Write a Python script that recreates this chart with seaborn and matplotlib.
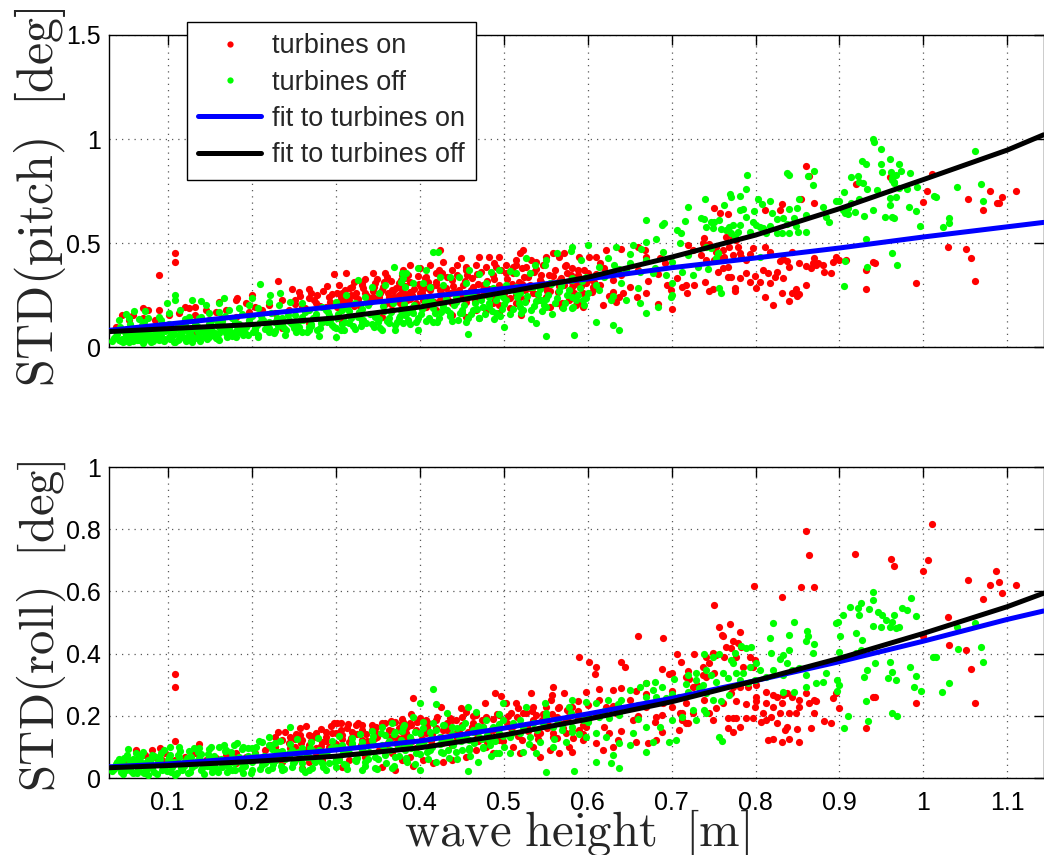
import numpy as np
import matplotlib
matplotlib.use("Agg")
import matplotlib.pyplot as plt
from matplotlib.lines import Line2D
from matplotlib.ticker import FuncFormatter
import seaborn as sns

# ---------------- data ----------------
pitch_on = [
(0.090,0.346),(0.109,0.450),(0.109,0.407),(0.231,0.319),(0.200,0.250),(0.248,0.277),(0.256,0.266),(0.268,0.277),
(0.278,0.250),(0.290,0.293),(0.298,0.349),(0.312,0.357),(0.304,0.298),(0.320,0.290),(0.331,0.306),(0.345,0.354),
(0.359,0.354),(0.375,0.306),(0.383,0.330),(0.308,0.258),(0.324,0.258),(0.335,0.258),(0.347,0.306),(0.355,0.274),
(0.367,0.274),(0.379,0.274),(0.292,0.242),(0.268,0.234),(0.252,0.226),(0.236,0.226),(0.220,0.202),(0.204,0.194),
(0.193,0.210),(0.181,0.226),(0.169,0.178),(0.157,0.170),(0.145,0.178),(0.133,0.194),(0.125,0.186),(0.113,0.162),
(0.101,0.154),(0.089,0.178),(0.077,0.178),(0.070,0.186),(0.058,0.154),(0.046,0.154),(0.038,0.098),(0.054,0.130),
(0.070,0.138),(0.085,0.130),(0.133,0.154),(0.149,0.130),(0.165,0.138),(0.181,0.146),(0.197,0.170),(0.212,0.178),
(0.228,0.162),(0.244,0.178),(0.260,0.194),(0.276,0.210),(0.288,0.194),(0.304,0.218),(0.316,0.226),(0.327,0.218),
(0.339,0.234),(0.351,0.242),(0.363,0.242),(0.375,0.250),(0.385,0.226),(0.161,0.218),(0.183,0.234),(0.121,0.191),
(0.236,0.090),(0.252,0.098),(0.268,0.114),(0.284,0.122),(0.308,0.122),(0.331,0.130),(0.355,0.146),(0.367,0.178),
(0.379,0.178),(0.133,0.066),
(0.523,0.466),(0.519,0.450),(0.515,0.418),(0.495,0.434),(0.483,0.434),(0.471,0.431),(0.449,0.426),(0.428,0.410),
(0.412,0.394),(0.400,0.378),(0.388,0.394),(0.380,0.370),(0.378,0.322),(0.388,0.314),(0.408,0.338),(0.420,0.354),
(0.439,0.370),(0.455,0.370),(0.467,0.394),(0.479,0.386),(0.491,0.386),(0.503,0.394),(0.515,0.394),(0.527,0.386),
(0.539,0.410),(0.551,0.434),(0.559,0.450),(0.566,0.434),(0.572,0.450),(0.574,0.394),(0.582,0.378),(0.590,0.434),
(0.602,0.434),(0.610,0.431),(0.622,0.466),(0.640,0.469),(0.660,0.479),(0.668,0.466),(0.670,0.434),(0.686,0.426),
(0.692,0.402),(0.725,0.466),(0.719,0.490),(0.727,0.298),(0.717,0.298),(0.713,0.290),(0.699,0.274),(0.701,0.183),
(0.684,0.207),(0.670,0.258),(0.659,0.242),(0.642,0.258),(0.638,0.242),(0.630,0.266),(0.634,0.218),(0.618,0.202),
(0.606,0.290),(0.598,0.306),(0.582,0.290),(0.594,0.194),(0.578,0.226),(0.570,0.194),(0.563,0.210),(0.551,0.242),
(0.555,0.194),(0.543,0.226),(0.535,0.258),(0.527,0.226),(0.519,0.242),(0.515,0.210),(0.507,0.234),(0.499,0.274),
(0.495,0.202),(0.487,0.210),(0.475,0.274),(0.463,0.290),(0.455,0.258),(0.447,0.274),(0.436,0.258),(0.424,0.274),
(0.412,0.274),(0.400,0.258),(0.388,0.242),(0.380,0.226),(0.378,0.178),(0.392,0.194),(0.408,0.194),(0.420,0.178),
(0.439,0.154),(0.455,0.146),(0.467,0.178),(0.479,0.178),(0.455,0.218),(0.439,0.210),(0.424,0.226),(0.404,0.226),
(0.521,0.154),(0.507,0.186),(0.495,0.162),(0.570,0.210),(0.586,0.202),(0.592,0.218),(0.424,0.466),
(0.860,0.870),(0.864,0.822),(0.870,0.691),(0.854,0.710),(0.831,0.688),(0.829,0.659),(0.811,0.659),(0.750,0.667),
(0.758,0.646),(0.767,0.639),(0.765,0.530),(0.773,0.522),(0.777,0.514),(0.779,0.482),(0.781,0.450),(0.769,0.482),
(0.761,0.466),(0.753,0.482),(0.745,0.495),(0.739,0.522),(0.737,0.498),(0.741,0.418),(0.751,0.418),(0.757,0.434),
(0.763,0.434),(0.773,0.442),(0.783,0.434),(0.793,0.447),(0.797,0.474),(0.811,0.482),(0.817,0.458),(0.829,0.415),
(0.833,0.421),(0.844,0.458),(0.852,0.402),(0.860,0.391),(0.868,0.405),(0.874,0.405),(0.870,0.426),(0.866,0.378),
(0.872,0.394),(0.880,0.394),(0.882,0.362),(0.890,0.357),(0.892,0.407),(0.896,0.434),(0.900,0.418),(0.908,0.418),
(0.940,0.410),(0.942,0.405),(0.931,0.370),(0.931,0.277),(0.991,0.309),(1.029,0.482),(1.051,0.471),(1.057,0.429),
(1.061,0.317),(1.053,0.712),(1.071,0.660),(1.079,0.750),(1.088,0.694),(1.090,0.694),(1.094,0.720),(1.110,0.750),
(1.004,0.750),(0.999,0.699),(1.010,0.832),(0.960,0.819),(0.920,0.784),(0.740,0.314),(0.745,0.271),(0.749,0.277),
(0.775,0.269),(0.776,0.282),(0.801,0.282),(0.811,0.242),(0.821,0.204),(0.831,0.261),(0.840,0.223),(0.844,0.261),
(0.850,0.245),(0.852,0.253),(0.848,0.277),(0.860,0.298),(0.833,0.330),(0.823,0.335),(0.825,0.362),(0.815,0.354),
(0.809,0.370),(0.799,0.343),(0.789,0.357),(0.781,0.333),(0.771,0.338),(0.767,0.338),(0.761,0.378),(0.755,0.362),
(0.793,0.314),(0.805,0.314),(0.817,0.309),(0.840,0.386),(0.837,0.415),(0.789,0.418),(0.767,0.386),(0.735,0.442),
(0.739,0.482),(0.753,0.458),
(0.252,0.205),(0.258,0.245),(0.263,0.188),(0.271,0.262),(0.274,0.226),(0.281,0.198),(0.285,0.270),(0.293,0.215),
(0.296,0.257),(0.301,0.190),(0.306,0.238),(0.311,0.275),(0.314,0.205),(0.318,0.250),(0.322,0.312),(0.326,0.231),
(0.329,0.196),(0.333,0.282),(0.337,0.247),(0.341,0.214),(0.344,0.268),(0.349,0.325),(0.352,0.228),(0.356,0.290),
(0.359,0.205),(0.362,0.262),(0.366,0.318),(0.369,0.240),(0.372,0.285),(0.376,0.212),(0.379,0.300),(0.382,0.255),
(0.386,0.345),(0.389,0.230),(0.393,0.278),(0.396,0.210),(0.399,0.305),(0.403,0.262),(0.406,0.330),(0.409,0.238),
(0.413,0.290),(0.417,0.215),(0.420,0.312),(0.424,0.250),(0.427,0.355),(0.431,0.282),(0.434,0.228),(0.438,0.320),
(0.441,0.268),(0.445,0.345),(0.448,0.245),(0.452,0.298),(0.455,0.385),(0.459,0.262),(0.462,0.330),(0.466,0.222),
(0.469,0.305),(0.473,0.360),(0.476,0.250),(0.480,0.318),(0.483,0.278),(0.487,0.345),(0.490,0.232),(0.494,0.300),
(0.497,0.372),(0.501,0.262),(0.504,0.328),(0.508,0.288),(0.511,0.355),(0.515,0.248),(0.518,0.312),(0.522,0.382),
(0.525,0.275),(0.529,0.338),(0.532,0.298),(0.536,0.362),(0.540,0.255),(0.543,0.322),(0.547,0.395),(0.550,0.285),
(0.554,0.345),(0.557,0.310),(0.561,0.372),(0.565,0.265),(0.568,0.332),(0.572,0.298),(0.576,0.355),(0.580,0.318),
(0.584,0.262),(0.588,0.345),(0.592,0.292),(0.596,0.372),(0.600,0.322),(0.605,0.265),(0.610,0.350),(0.615,0.300),
(0.620,0.380),(0.625,0.245),(0.630,0.320),(0.640,0.345),(0.650,0.290),(0.660,0.370),(0.672,0.318),(0.684,0.352),
(0.695,0.296),(0.706,0.330),(0.718,0.262),
(0.302,0.262),(0.309,0.220),(0.317,0.282),(0.323,0.245),(0.331,0.300),(0.338,0.225),(0.346,0.288),(0.353,0.258),
(0.361,0.335),(0.368,0.270),(0.375,0.228),(0.383,0.295),(0.391,0.248),(0.398,0.340),(0.405,0.282),(0.412,0.232),
(0.419,0.298),(0.426,0.262),(0.433,0.338),(0.440,0.292),(0.447,0.242),(0.454,0.318),(0.461,0.272),(0.468,0.352),
(0.475,0.298),(0.482,0.250),(0.489,0.325),(0.496,0.282),(0.503,0.358),(0.510,0.305),(0.517,0.262),(0.524,0.338),
(0.531,0.285),(0.538,0.375),(0.545,0.312),(0.552,0.268),(0.559,0.342),(0.566,0.295),(0.573,0.388),(0.580,0.345),
(0.587,0.305),(0.594,0.262),(0.601,0.358),(0.608,0.312),(0.615,0.405),(0.322,0.198),(0.344,0.242),(0.366,0.205),
(0.388,0.265),(0.410,0.312),(0.432,0.250),(0.456,0.345),(0.478,0.272),(0.500,0.242),(0.522,0.302),(0.544,0.345),
(0.566,0.318),(0.588,0.372),(0.610,0.285),(0.335,0.325),(0.357,0.312),(0.379,0.345),(0.401,0.288),(0.423,0.372),
(0.445,0.395),(0.467,0.262),(0.489,0.405),(0.511,0.385),(0.533,0.418),(0.555,0.270),
]

pitch_off = [
(0.109,0.250),(0.109,0.226),(0.099,0.210),(0.210,0.303),(0.234,0.258),(0.222,0.250),(0.200,0.234),(0.129,0.226),
(0.139,0.223),(0.161,0.213),(0.167,0.234),(0.145,0.202),(0.115,0.178),(0.073,0.173),(0.060,0.173),(0.050,0.159),
(0.042,0.130),(0.054,0.138),(0.066,0.133),(0.077,0.138),(0.089,0.146),(0.101,0.162),(0.125,0.146),(0.137,0.138),
(0.149,0.162),(0.161,0.170),(0.173,0.178),(0.185,0.186),(0.197,0.202),(0.208,0.186),(0.220,0.218),(0.232,0.202),
(0.246,0.218),(0.260,0.210),(0.268,0.178),(0.284,0.194),(0.300,0.218),(0.312,0.250),(0.327,0.322),(0.343,0.290),
(0.359,0.298),(0.370,0.383),(0.379,0.354),(0.383,0.290),(0.351,0.258),(0.335,0.242),(0.323,0.210),(0.308,0.178),
(0.292,0.154),(0.276,0.138),(0.260,0.146),(0.244,0.130),(0.228,0.122),(0.212,0.130),(0.197,0.114),(0.181,0.106),
(0.165,0.098),(0.149,0.090),(0.133,0.098),(0.117,0.090),(0.101,0.082),(0.085,0.082),(0.070,0.074),(0.058,0.066),
(0.050,0.050),(0.054,0.026),(0.066,0.034),(0.077,0.042),(0.089,0.034),(0.101,0.050),(0.113,0.058),(0.125,0.050),
(0.137,0.062),(0.149,0.050),(0.161,0.066),(0.173,0.074),(0.189,0.082),(0.204,0.082),(0.220,0.090),(0.236,0.106),
(0.252,0.114),(0.268,0.082),(0.280,0.053),(0.260,0.074),(0.300,0.090),(0.316,0.114),(0.331,0.122),(0.347,0.146),
(0.363,0.114),(0.375,0.138),(0.385,0.162),(0.355,0.082),(0.371,0.082),(0.300,0.050),(0.208,0.050),(0.129,0.026),
(0.070,0.018),(0.062,0.050),(0.085,0.050),(0.109,0.026),(0.048,0.034),(0.046,0.082),(0.042,0.034),(0.093,0.106),
(0.161,0.034),(0.181,0.050),
(0.045,0.040),(0.052,0.030),(0.058,0.045),(0.063,0.035),(0.068,0.055),(0.072,0.028),(0.078,0.060),(0.082,0.030),
(0.087,0.045),(0.092,0.055),(0.096,0.028),(0.103,0.040),(0.107,0.062),(0.112,0.035),(0.118,0.048),(0.122,0.030),
(0.128,0.060),(0.133,0.042),(0.138,0.030),(0.143,0.070),(0.147,0.040),(0.153,0.060),(0.158,0.045),(0.165,0.080),
(0.170,0.050),(0.176,0.065),(0.185,0.070),(0.195,0.060),(0.050,0.060),(0.060,0.080),(0.075,0.090),(0.090,0.070),
(0.115,0.080),(0.135,0.100),(0.160,0.120),(0.190,0.100),(0.210,0.120),(0.230,0.140),(0.250,0.090),(0.270,0.100),
(0.290,0.120),(0.310,0.080),(0.330,0.100),(0.350,0.120),(0.240,0.060),(0.220,0.070),
(0.036,0.045),(0.040,0.062),(0.044,0.028),(0.048,0.075),(0.053,0.048),(0.057,0.092),(0.061,0.038),(0.065,0.068),
(0.069,0.105),(0.073,0.052),(0.077,0.082),(0.081,0.040),(0.085,0.065),(0.089,0.098),(0.093,0.045),(0.097,0.075),
(0.101,0.112),(0.105,0.055),(0.109,0.088),(0.113,0.040),(0.117,0.070),(0.121,0.105),(0.125,0.058),(0.129,0.085),
(0.133,0.120),(0.137,0.050),(0.141,0.092),(0.145,0.068),(0.149,0.110),(0.153,0.078),(0.157,0.048),(0.161,0.098),
(0.165,0.125),(0.169,0.065),(0.173,0.092),(0.177,0.140),(0.181,0.075),(0.185,0.110),(0.189,0.058),(0.193,0.095),
(0.197,0.132),(0.201,0.070),(0.206,0.108),(0.211,0.150),(0.216,0.085),(0.221,0.118),(0.226,0.065),(0.231,0.100),
(0.236,0.140),(0.241,0.080),(0.246,0.120),(0.251,0.155),(0.256,0.098),(0.261,0.130),(0.266,0.072),(0.271,0.112),
(0.276,0.158),(0.281,0.090),(0.286,0.128),(0.291,0.168),(0.296,0.105),(0.301,0.140),(0.306,0.080),(0.311,0.122),
(0.316,0.175),(0.321,0.100),(0.326,0.145),(0.331,0.185),(0.336,0.115),(0.341,0.160),(0.346,0.095),(0.351,0.135),
(0.356,0.198),(0.361,0.125),(0.366,0.168),(0.371,0.105),(0.376,0.150),(0.381,0.205),(0.386,0.132),(0.391,0.178),
(0.396,0.118),(0.401,0.160),(0.406,0.215),(0.411,0.140),(0.416,0.188),(0.421,0.122),(0.426,0.170),(0.431,0.232),
(0.436,0.150),(0.441,0.200),(0.446,0.128),(0.451,0.180),(0.456,0.248),(0.461,0.160),(0.466,0.212),(0.471,0.138),
(0.476,0.190),(0.481,0.262),(0.486,0.172),(0.491,0.225),(0.496,0.148),(0.501,0.205),(0.506,0.275),(0.511,0.185),
(0.516,0.240),(0.521,0.162),(0.526,0.218),(0.531,0.290),(0.536,0.198),(0.541,0.255),(0.546,0.175),(0.551,0.232),
(0.556,0.305),(0.561,0.212),(0.566,0.270),(0.571,0.188),(0.576,0.248),(0.581,0.320),(0.586,0.225),(0.591,0.285),
(0.596,0.200),(0.601,0.262),(0.610,0.300),(0.620,0.338),(0.630,0.245),(0.640,0.310),(0.650,0.405),(0.660,0.282),
(0.670,0.420),(0.680,0.380),(0.690,0.455),(0.700,0.410),(0.710,0.500),(0.720,0.440),
(0.034,0.030),(0.038,0.055),(0.043,0.095),(0.047,0.022),(0.051,0.068),(0.055,0.112),(0.059,0.030),(0.064,0.085),
(0.068,0.042),(0.072,0.120),(0.076,0.065),(0.080,0.025),(0.084,0.098),(0.088,0.058),(0.092,0.128),(0.096,0.040),
(0.100,0.085),(0.104,0.068),(0.108,0.025),(0.112,0.100),(0.116,0.055),(0.120,0.135),(0.124,0.078),(0.128,0.038),
(0.132,0.108),(0.136,0.070),(0.140,0.145),(0.144,0.048),(0.148,0.090),(0.152,0.125),(0.156,0.065),(0.160,0.040),
(0.164,0.105),(0.168,0.148),(0.172,0.080),(0.176,0.055),(0.180,0.120),(0.184,0.090),(0.188,0.160),(0.192,0.068),
(0.196,0.110),(0.200,0.150),(0.204,0.092),(0.208,0.060),(0.213,0.132),(0.218,0.100),(0.223,0.165),(0.228,0.078),
(0.233,0.118),(0.238,0.090),(0.243,0.155),(0.248,0.110),(0.253,0.070),(0.258,0.130),(0.263,0.170),(0.268,0.098),
(0.273,0.140),(0.278,0.080),(0.283,0.115),(0.288,0.180),(0.293,0.130),(0.298,0.095),(0.303,0.160),(0.308,0.112),
(0.313,0.190),(0.318,0.138),(0.323,0.085),(0.328,0.170),(0.333,0.128),(0.338,0.200),(0.343,0.110),(0.348,0.155),
(0.353,0.092),(0.358,0.175),(0.363,0.140),(0.368,0.210),(0.373,0.120),(0.378,0.180),(0.383,0.155),(0.388,0.110),
(0.393,0.200),(0.398,0.140),(0.403,0.185),(0.408,0.125),(0.413,0.228),(0.418,0.165),(0.423,0.140),(0.428,0.205),
(0.433,0.180),(0.438,0.125),(0.443,0.240),(0.448,0.165),(0.453,0.200),(0.458,0.140),(0.463,0.255),(0.468,0.185),
(0.473,0.225),(0.478,0.160),(0.483,0.210),(0.488,0.135),(0.493,0.250),(0.498,0.185),(0.503,0.225),(0.508,0.160),
(0.513,0.268),(0.518,0.210),(0.523,0.178),(0.528,0.245),(0.533,0.135),(0.538,0.222),(0.543,0.280),(0.548,0.200),
(0.553,0.250),(0.558,0.160),(0.563,0.235),(0.568,0.295),(0.573,0.212),(0.578,0.275),(0.583,0.190),(0.588,0.250),
(0.593,0.315),(0.598,0.235),
(0.719,0.675),(0.670,0.610),(0.691,0.598),(0.689,0.586),(0.716,0.607),(0.707,0.562),(0.711,0.546),(0.681,0.517),
(0.670,0.503),(0.654,0.490),(0.664,0.473),(0.650,0.447),(0.634,0.482),(0.624,0.429),(0.632,0.394),(0.638,0.375),
(0.614,0.386),(0.600,0.490),(0.582,0.479),(0.580,0.461),(0.592,0.418),(0.563,0.450),(0.551,0.418),(0.549,0.394),
(0.537,0.394),(0.527,0.426),(0.531,0.354),(0.515,0.354),(0.507,0.367),(0.495,0.370),(0.485,0.362),(0.471,0.351),
(0.459,0.370),(0.447,0.338),(0.436,0.338),(0.424,0.335),(0.416,0.458),(0.422,0.458),(0.408,0.370),(0.398,0.378),
(0.384,0.354),(0.380,0.333),(0.378,0.314),(0.392,0.306),(0.404,0.306),(0.412,0.290),(0.428,0.298),(0.455,0.306),
(0.479,0.306),(0.503,0.298),(0.487,0.282),(0.515,0.287),(0.535,0.290),(0.555,0.306),(0.570,0.314),(0.582,0.330),
(0.598,0.338),(0.614,0.346),(0.630,0.354),(0.646,0.370),(0.662,0.362),(0.678,0.357),(0.693,0.346),(0.701,0.306),
(0.713,0.362),(0.725,0.346),(0.731,0.386),(0.614,0.274),(0.628,0.226),(0.646,0.226),(0.662,0.210),(0.670,0.162),
(0.684,0.194),(0.699,0.242),(0.701,0.250),(0.610,0.122),(0.630,0.106),(0.638,0.082),(0.594,0.226),(0.582,0.186),
(0.582,0.242),(0.551,0.194),(0.545,0.226),(0.533,0.178),(0.519,0.258),(0.499,0.242),(0.483,0.242),(0.475,0.194),
(0.463,0.178),(0.451,0.162),(0.436,0.162),(0.428,0.194),(0.416,0.210),(0.404,0.194),(0.392,0.162),(0.384,0.178),
(0.380,0.114),(0.398,0.082),(0.416,0.122),(0.455,0.122),(0.471,0.138),(0.491,0.162),(0.500,0.098),(0.539,0.114),
(0.551,0.053),(0.584,0.058),(0.457,0.062),(0.483,0.194),(0.443,0.218),(0.519,0.194),
(0.940,1.000),(0.941,0.987),(0.950,0.952),(0.927,0.894),(0.931,0.880),(0.950,0.878),(0.960,0.905),(0.971,0.878),
(0.951,0.841),(0.961,0.843),(0.973,0.846),(0.984,0.838),(0.963,0.814),(0.965,0.795),(0.914,0.819),(0.922,0.821),
(0.923,0.795),(0.928,0.787),(0.933,0.758),(0.945,0.755),(0.960,0.715),(0.967,0.723),(0.981,0.758),(0.992,0.768),
(0.905,0.745),(0.896,0.702),(0.900,0.702),(0.923,0.710),(0.940,0.659),(0.918,0.647),(0.929,0.630),(0.910,0.639),
(0.906,0.646),(0.887,0.603),(0.884,0.627),(0.880,0.671),(0.860,0.635),(0.852,0.710),(0.850,0.668),(0.840,0.662),
(0.838,0.835),(0.840,0.827),(0.870,0.846),(0.863,0.822),(0.868,0.779),(0.790,0.827),(0.789,0.758),(0.781,0.728),
(0.771,0.723),(0.770,0.734),(0.763,0.683),(0.785,0.663),(0.782,0.659),(0.798,0.654),(0.803,0.713),(0.808,0.686),
(0.817,0.702),(0.820,0.643),(0.825,0.614),(0.833,0.619),(0.837,0.591),(0.846,0.619),(0.848,0.582),(0.840,0.550),
(0.831,0.550),(0.860,0.551),(0.851,0.551),(0.817,0.582),(0.809,0.574),(0.797,0.603),(0.789,0.627),(0.793,0.554),
(0.782,0.587),(0.773,0.587),(0.769,0.579),(0.757,0.611),(0.751,0.603),(0.747,0.603),(0.739,0.615),(0.735,0.622),
(0.741,0.579),(0.749,0.571),(0.759,0.566),(0.765,0.562),(0.771,0.550),(0.740,0.713),(0.983,0.675),(0.991,0.654),
(0.965,0.619),(0.963,0.627),(0.996,0.582),(1.030,0.619),(1.030,0.595),(1.023,0.579),(1.013,0.726),(1.015,0.723),
(1.040,0.768),(1.061,0.942),(1.069,0.784),(1.071,0.702),(0.932,0.518),(0.962,0.450),(0.968,0.394),(0.906,0.413),
(0.933,0.386),(0.905,0.293),(0.757,0.285),(0.759,0.261),(0.744,0.373),(0.753,0.426),(0.741,0.482),(0.747,0.474),
(0.755,0.450),(0.805,0.434),(0.779,0.554),(0.775,0.530),(0.813,0.546),(0.825,0.546),(0.801,0.587),(0.805,0.579),
(0.965,0.787),(0.971,0.766),(0.963,0.803),(0.967,0.827),(0.954,0.627),(0.960,0.683),(0.914,0.691),(0.910,0.670),
(0.904,0.659),
]

roll_on = [
(0.109,0.336),(0.109,0.291),(0.109,0.120),(0.091,0.095),(0.137,0.109),(0.231,0.149),(0.246,0.131),(0.258,0.138),
(0.268,0.138),(0.298,0.176),(0.306,0.176),(0.315,0.174),(0.327,0.176),(0.343,0.170),(0.359,0.176),(0.371,0.181),
(0.379,0.176),(0.288,0.149),(0.276,0.133),(0.260,0.122),(0.252,0.101),(0.268,0.106),(0.284,0.117),(0.300,0.144),
(0.308,0.138),(0.320,0.149),(0.331,0.154),(0.347,0.149),(0.363,0.154),(0.375,0.160),(0.383,0.149),(0.316,0.117),
(0.331,0.122),(0.347,0.128),(0.367,0.133),(0.379,0.128),(0.292,0.101),(0.276,0.079),(0.244,0.111),(0.236,0.122),
(0.228,0.101),(0.216,0.090),(0.204,0.079),(0.193,0.069),(0.181,0.079),(0.169,0.074),(0.157,0.063),(0.145,0.058),
(0.133,0.079),(0.121,0.069),(0.109,0.058),(0.097,0.079),(0.085,0.069),(0.073,0.074),(0.062,0.058),(0.050,0.053),
(0.046,0.026),(0.081,0.090),(0.062,0.090),(0.093,0.058),(0.149,0.047),(0.181,0.047),(0.197,0.058),(0.216,0.058),
(0.236,0.052),(0.252,0.058),(0.268,0.052),(0.284,0.058),(0.304,0.069),(0.316,0.058),(0.335,0.069),(0.351,0.090),
(0.367,0.079),(0.379,0.058),(0.308,0.036),(0.260,0.031),(0.355,0.036),(0.371,0.026),
(0.660,0.457),(0.690,0.451),(0.590,0.390),(0.602,0.374),(0.610,0.356),(0.609,0.334),(0.640,0.374),(0.644,0.358),
(0.707,0.399),(0.711,0.374),(0.727,0.399),(0.689,0.349),(0.697,0.334),(0.701,0.337),(0.717,0.326),(0.721,0.317),
(0.725,0.294),(0.670,0.307),(0.658,0.281),(0.640,0.288),(0.630,0.283),(0.613,0.286),(0.598,0.278),(0.589,0.249),
(0.572,0.272),(0.559,0.294),(0.558,0.267),(0.557,0.251),(0.533,0.272),(0.497,0.264),(0.490,0.274),(0.478,0.240),
(0.467,0.203),(0.455,0.213),(0.449,0.224),(0.426,0.229),(0.392,0.256),(0.390,0.206),(0.380,0.181),(0.388,0.176),
(0.400,0.192),(0.410,0.176),(0.420,0.187),(0.436,0.192),(0.443,0.187),(0.463,0.176),(0.479,0.197),(0.495,0.203),
(0.509,0.208),(0.517,0.224),(0.527,0.208),(0.539,0.203),(0.551,0.197),(0.563,0.197),(0.574,0.187),(0.582,0.229),
(0.566,0.229),(0.551,0.229),(0.535,0.229),(0.515,0.240),(0.503,0.240),(0.614,0.251),(0.622,0.229),(0.634,0.208),
(0.654,0.187),(0.670,0.229),(0.682,0.197),(0.701,0.229),(0.717,0.240),(0.725,0.208),(0.713,0.187),(0.689,0.203),
(0.384,0.144),(0.396,0.154),(0.408,0.144),(0.428,0.154),(0.447,0.149),(0.467,0.154),(0.487,0.154),(0.507,0.165),
(0.527,0.165),(0.543,0.144),(0.559,0.133),(0.574,0.144),(0.590,0.154),(0.598,0.165),(0.495,0.122),(0.511,0.101),
(0.519,0.079),(0.535,0.101),(0.543,0.069),(0.555,0.090),(0.566,0.079),(0.578,0.101),(0.582,0.085),(0.594,0.122),
(0.610,0.111),(0.630,0.101),(0.636,0.122),(0.658,0.117),(0.672,0.111),(0.682,0.122),(0.689,0.149),(0.709,0.154),
(0.717,0.176),(0.713,0.208),(0.618,0.090),(0.626,0.144),(0.380,0.101),(0.388,0.069),(0.404,0.058),(0.416,0.047),
(0.428,0.053),(0.439,0.058),(0.455,0.069),(0.467,0.090),(0.479,0.101),(0.487,0.079),(0.392,0.037),(0.719,0.176),
(0.860,0.794),(0.864,0.717),(0.798,0.617),(0.831,0.581),(0.854,0.613),(0.870,0.613),(0.750,0.556),(1.010,0.816),
(0.919,0.720),(0.961,0.704),(0.965,0.683),(1.005,0.701),(1.000,0.664),(1.053,0.637),(1.087,0.667),(1.090,0.631),
(1.079,0.619),(1.110,0.619),(1.094,0.596),(1.071,0.576),(1.029,0.519),(1.030,0.428),(1.051,0.412),(1.057,0.350),
(1.061,0.242),(0.991,0.240),(1.000,0.455),(0.940,0.262),(0.942,0.262),(0.931,0.160),(0.757,0.487),(0.770,0.495),
(0.760,0.460),(0.761,0.455),(0.773,0.439),(0.781,0.471),(0.779,0.433),(0.783,0.422),(0.765,0.422),(0.771,0.417),
(0.763,0.390),(0.753,0.396),(0.749,0.401),(0.741,0.390),(0.745,0.369),(0.737,0.358),(0.777,0.390),(0.785,0.358),
(0.793,0.390),(0.799,0.380),(0.797,0.358),(0.751,0.337),(0.741,0.326),(0.773,0.294),(0.781,0.294),(0.791,0.294),
(0.801,0.299),(0.813,0.278),(0.825,0.262),(0.838,0.272),(0.852,0.251),(0.860,0.272),(0.870,0.251),(0.872,0.246),
(0.864,0.240),(0.852,0.229),(0.844,0.262),(0.833,0.267),(0.821,0.267),(0.813,0.240),(0.801,0.246),(0.789,0.238),
(0.777,0.246),(0.771,0.272),(0.761,0.240),(0.753,0.224),(0.745,0.208),(0.749,0.187),(0.767,0.192),(0.773,0.192),
(0.777,0.192),(0.789,0.192),(0.797,0.192),(0.807,0.181),(0.813,0.187),(0.819,0.197),(0.825,0.176),(0.837,0.165),
(0.835,0.154),(0.850,0.157),(0.866,0.162),(0.870,0.208),(0.882,0.184),(0.890,0.178),(0.896,0.272),(0.892,0.256),
(0.899,0.224),(0.815,0.122),(0.821,0.124),(0.831,0.117),(0.840,0.124),(0.852,0.117),(0.767,0.160),(0.773,0.147),
(0.781,0.165),(0.848,0.208),(0.840,0.208),(0.831,0.240),(0.829,0.208),(0.809,0.208),(0.799,0.229),(0.821,0.229),
(0.801,0.262),(0.737,0.331),(0.739,0.251),
(0.222,0.105),(0.228,0.132),(0.234,0.085),(0.240,0.148),(0.246,0.098),(0.252,0.125),(0.258,0.160),(0.264,0.090),
(0.270,0.118),(0.276,0.145),(0.282,0.102),(0.288,0.132),(0.294,0.168),(0.300,0.110),(0.306,0.155),(0.312,0.088),
(0.318,0.128),(0.324,0.172),(0.330,0.105),(0.336,0.142),(0.342,0.118),(0.348,0.165),(0.354,0.095),(0.360,0.138),
(0.366,0.182),(0.372,0.112),(0.378,0.152),(0.384,0.125),(0.390,0.170),(0.396,0.098),(0.402,0.142),(0.408,0.188),
(0.414,0.118),(0.420,0.160),(0.426,0.132),(0.432,0.178),(0.438,0.105),(0.444,0.148),(0.450,0.195),(0.456,0.125),
(0.462,0.165),(0.468,0.140),(0.474,0.185),(0.480,0.115),(0.486,0.158),(0.492,0.205),(0.498,0.135),(0.504,0.178),
(0.510,0.148),(0.516,0.195),(0.522,0.122),(0.528,0.168),(0.534,0.215),(0.540,0.142),(0.546,0.185),(0.552,0.160),
(0.558,0.205),(0.564,0.130),(0.570,0.175),(0.576,0.220),(0.582,0.150),(0.588,0.195),(0.594,0.140),(0.600,0.182),
(0.610,0.205),(0.620,0.165),(0.630,0.230),(0.640,0.150),(0.650,0.250),(0.660,0.200),(0.670,0.270),(0.680,0.180),
(0.690,0.240),(0.700,0.280),(0.710,0.210),(0.720,0.345),(0.730,0.300),
(0.253,0.140),(0.259,0.112),(0.265,0.168),(0.271,0.135),(0.277,0.098),(0.283,0.158),(0.289,0.118),(0.295,0.145),
(0.301,0.178),(0.307,0.125),(0.313,0.160),(0.319,0.105),(0.325,0.140),(0.331,0.172),(0.337,0.118),(0.343,0.155),
(0.349,0.132),(0.355,0.178),(0.361,0.108),(0.367,0.150),(0.373,0.128),(0.379,0.190),(0.385,0.165),(0.391,0.118),
(0.397,0.180),(0.403,0.125),(0.409,0.165),(0.415,0.140),(0.421,0.195),(0.427,0.112),(0.433,0.155),(0.439,0.185),
(0.445,0.130),(0.451,0.170),(0.457,0.148),(0.463,0.200),(0.469,0.120),(0.475,0.165),(0.481,0.140),(0.487,0.190),
(0.493,0.155),(0.499,0.118),(0.505,0.200),(0.511,0.168),(0.517,0.135),(0.523,0.210),(0.529,0.150),(0.535,0.185),
(0.541,0.125),(0.547,0.205),(0.553,0.170),(0.559,0.145),(0.565,0.225),(0.571,0.160),(0.577,0.195),(0.583,0.128),
(0.589,0.215),(0.595,0.170),(0.600,0.235),
]

roll_off = [
(0.246,0.163),(0.053,0.092),(0.103,0.099),(0.113,0.099),(0.125,0.088),(0.137,0.095),(0.149,0.092),(0.161,0.099),
(0.169,0.090),(0.179,0.106),(0.189,0.099),(0.200,0.095),(0.212,0.117),(0.220,0.131),(0.228,0.111),(0.236,0.088),
(0.248,0.090),(0.260,0.095),(0.272,0.090),(0.284,0.079),(0.300,0.099),(0.308,0.106),(0.320,0.111),(0.331,0.117),
(0.343,0.152),(0.355,0.165),(0.367,0.176),(0.381,0.170),(0.371,0.149),(0.359,0.138),(0.343,0.122),(0.331,0.090),
(0.316,0.079),(0.304,0.058),(0.292,0.047),(0.280,0.058),(0.268,0.069),(0.256,0.063),(0.244,0.069),(0.232,0.063),
(0.220,0.058),(0.208,0.063),(0.197,0.069),(0.185,0.069),(0.173,0.058),(0.161,0.058),(0.149,0.069),(0.137,0.063),
(0.125,0.063),(0.113,0.069),(0.101,0.069),(0.089,0.069),(0.077,0.058),(0.066,0.063),(0.054,0.058),(0.046,0.047),
(0.042,0.036),(0.050,0.026),(0.058,0.015),(0.070,0.020),(0.081,0.031),(0.093,0.026),(0.105,0.036),(0.117,0.026),
(0.129,0.036),(0.141,0.031),(0.153,0.020),(0.165,0.036),(0.177,0.026),(0.189,0.036),(0.200,0.026),(0.212,0.042),
(0.224,0.031),(0.236,0.026),(0.248,0.036),(0.260,0.047),(0.272,0.031),(0.284,0.047),(0.300,0.036),(0.312,0.042),
(0.323,0.058),(0.335,0.052),(0.347,0.069),(0.359,0.090),(0.371,0.069),(0.383,0.090),(0.367,0.031),(0.347,0.031),
(0.331,0.026),(0.268,0.026),(0.189,0.015),(0.109,0.010),(0.077,0.010),(0.068,0.042),(0.091,0.047),(0.123,0.047),
(0.155,0.042),(0.187,0.052),(0.216,0.047),(0.062,0.079),(0.081,0.074),(0.073,0.047),
(0.036,0.030),(0.040,0.052),(0.044,0.018),(0.048,0.065),(0.052,0.038),(0.056,0.022),(0.060,0.048),(0.064,0.030),
(0.068,0.072),(0.072,0.015),(0.076,0.042),(0.080,0.060),(0.084,0.020),(0.088,0.050),(0.092,0.080),(0.096,0.035),
(0.100,0.058),(0.104,0.018),(0.108,0.045),(0.112,0.075),(0.116,0.032),(0.120,0.055),(0.124,0.015),(0.128,0.068),
(0.132,0.042),(0.136,0.085),(0.140,0.025),(0.144,0.052),(0.148,0.078),(0.152,0.035),(0.156,0.062),(0.160,0.018),
(0.164,0.048),(0.168,0.088),(0.172,0.040),(0.176,0.068),(0.180,0.025),(0.184,0.055),(0.188,0.092),(0.192,0.038),
(0.196,0.072),(0.200,0.050),(0.205,0.100),(0.210,0.030),(0.215,0.070),(0.220,0.105),(0.225,0.045),(0.230,0.082),
(0.235,0.038),(0.240,0.060),(0.245,0.110),(0.250,0.052),(0.255,0.082),(0.260,0.030),(0.265,0.068),(0.270,0.115),
(0.275,0.050),(0.280,0.090),(0.285,0.035),(0.290,0.075),(0.295,0.120),(0.300,0.060),(0.305,0.095),(0.310,0.045),
(0.315,0.080),(0.320,0.128),(0.325,0.065),(0.330,0.100),(0.335,0.040),(0.340,0.085),(0.345,0.135),(0.350,0.062),
(0.355,0.105),(0.360,0.048),(0.365,0.090),(0.370,0.140),(0.375,0.072),(0.380,0.112),(0.385,0.052),(0.390,0.095),
(0.395,0.148),(0.400,0.078),(0.405,0.118),(0.410,0.060),(0.415,0.100),(0.420,0.155),(0.425,0.085),(0.430,0.122),
(0.435,0.065),(0.440,0.105),(0.445,0.160),(0.450,0.090),(0.455,0.130),(0.460,0.070),(0.465,0.112),(0.470,0.168),
(0.475,0.095),(0.480,0.138),(0.485,0.072),(0.490,0.118),(0.495,0.175),(0.500,0.100),(0.510,0.145),(0.520,0.185),
(0.530,0.110),(0.540,0.155),(0.550,0.195),(0.560,0.125),(0.570,0.170),(0.580,0.210),(0.590,0.140),(0.600,0.180),
(0.620,0.215),(0.640,0.250),(0.660,0.190),(0.680,0.310),(0.700,0.270),(0.720,0.330),
(0.034,0.022),(0.038,0.045),(0.042,0.060),(0.047,0.012),(0.051,0.075),(0.055,0.035),(0.059,0.062),(0.063,0.015),
(0.067,0.055),(0.071,0.085),(0.075,0.028),(0.079,0.050),(0.083,0.072),(0.087,0.012),(0.091,0.062),(0.095,0.090),
(0.099,0.022),(0.103,0.075),(0.107,0.052),(0.111,0.015),(0.115,0.088),(0.119,0.040),(0.123,0.065),(0.127,0.020),
(0.131,0.095),(0.135,0.055),(0.139,0.078),(0.143,0.012),(0.147,0.040),(0.151,0.100),(0.155,0.072),(0.159,0.028),
(0.163,0.062),(0.167,0.105),(0.171,0.018),(0.175,0.082),(0.179,0.048),(0.183,0.112),(0.187,0.030),(0.191,0.062),
(0.195,0.095),(0.199,0.015),(0.204,0.078),(0.209,0.118),(0.214,0.055),(0.219,0.025),(0.224,0.092),(0.229,0.058),
(0.234,0.120),(0.239,0.030),(0.244,0.080),(0.249,0.048),(0.254,0.125),(0.259,0.065),(0.264,0.020),(0.269,0.095),
(0.274,0.058),(0.279,0.130),(0.284,0.075),(0.289,0.025),(0.294,0.098),(0.299,0.050),(0.304,0.135),(0.309,0.080),
(0.314,0.030),(0.319,0.102),(0.324,0.055),(0.329,0.140),(0.334,0.085),(0.339,0.060),(0.344,0.110),(0.349,0.030),
(0.354,0.145),(0.359,0.075),(0.364,0.120),(0.369,0.040),(0.374,0.095),(0.379,0.150),(0.384,0.065),(0.389,0.115),
(0.394,0.045),(0.399,0.105),(0.404,0.160),(0.409,0.085),(0.414,0.130),(0.419,0.050),(0.424,0.108),(0.429,0.170),
(0.434,0.090),(0.439,0.140),(0.444,0.060),(0.449,0.118),(0.454,0.178),(0.459,0.098),(0.464,0.148),(0.469,0.050),
(0.474,0.125),(0.479,0.185),(0.484,0.105),(0.489,0.160),(0.494,0.080),(0.499,0.135),
(0.416,0.286),(0.400,0.240),(0.420,0.238),(0.432,0.208),(0.457,0.229),(0.467,0.213),(0.495,0.206),(0.499,0.240),
(0.527,0.229),(0.549,0.240),(0.551,0.208),(0.563,0.187),(0.578,0.229),(0.582,0.251),(0.598,0.245),(0.610,0.240),
(0.624,0.251),(0.636,0.238),(0.650,0.283),(0.662,0.292),(0.670,0.304),(0.678,0.283),(0.689,0.294),(0.703,0.317),
(0.717,0.302),(0.729,0.315),(0.729,0.337),(0.733,0.288),(0.719,0.278),(0.709,0.262),(0.693,0.256),(0.682,0.262),
(0.670,0.262),(0.660,0.235),(0.650,0.224),(0.638,0.203),(0.626,0.192),(0.614,0.197),(0.602,0.197),(0.594,0.187),
(0.582,0.165),(0.570,0.154),(0.559,0.165),(0.547,0.176),(0.535,0.176),(0.523,0.165),(0.511,0.176),(0.499,0.187),
(0.487,0.165),(0.475,0.165),(0.463,0.154),(0.451,0.165),(0.439,0.165),(0.428,0.170),(0.416,0.176),(0.404,0.181),
(0.392,0.197),(0.380,0.165),(0.378,0.122),(0.388,0.133),(0.400,0.144),(0.412,0.149),(0.424,0.133),(0.436,0.122),
(0.447,0.133),(0.459,0.122),(0.471,0.133),(0.483,0.122),(0.495,0.144),(0.507,0.133),(0.519,0.144),(0.531,0.133),
(0.543,0.117),(0.559,0.101),(0.574,0.117),(0.582,0.149),(0.598,0.133),(0.610,0.144),(0.622,0.133),(0.638,0.111),
(0.654,0.144),(0.670,0.165),(0.686,0.165),(0.701,0.187),(0.713,0.197),(0.725,0.219),(0.729,0.187),(0.705,0.122),
(0.697,0.117),(0.678,0.117),(0.670,0.085),(0.650,0.106),(0.630,0.074),(0.628,0.047),(0.638,0.031),(0.610,0.053),
(0.584,0.024),(0.551,0.020),(0.457,0.024),(0.400,0.026),(0.384,0.058),(0.396,0.079),(0.412,0.090),(0.428,0.079),
(0.443,0.085),(0.459,0.090),(0.475,0.101),(0.491,0.079),(0.507,0.079),(0.523,0.085),(0.539,0.079),(0.384,0.101),
(0.821,0.500),(0.846,0.503),(0.840,0.460),(0.861,0.474),(0.862,0.457),(0.860,0.442),(0.870,0.431),(0.868,0.403),
(0.833,0.396),(0.840,0.410),(0.838,0.371),(0.829,0.382),(0.819,0.401),(0.817,0.449),(0.795,0.420),(0.789,0.417),
(0.783,0.426),(0.775,0.401),(0.771,0.380),(0.773,0.369),(0.757,0.399),(0.749,0.390),(0.739,0.399),(0.741,0.347),
(0.747,0.331),(0.753,0.310),(0.761,0.337),(0.767,0.321),(0.777,0.337),(0.785,0.337),(0.793,0.358),(0.801,0.369),
(0.805,0.347),(0.813,0.326),(0.821,0.347),(0.833,0.331),(0.844,0.347),(0.852,0.353),(0.860,0.331),(0.872,0.305),
(0.880,0.310),(0.884,0.337),(0.737,0.299),(0.741,0.274),(0.749,0.251),(0.759,0.246),(0.769,0.267),(0.781,0.315),
(0.791,0.305),(0.799,0.315),(0.833,0.278),(0.846,0.278),(0.860,0.294),(0.739,0.219),(0.741,0.208),(0.757,0.133),
(0.760,0.120),(0.896,0.497),(0.898,0.503),(0.904,0.524),(0.913,0.549),(0.922,0.546),(0.926,0.562),(0.935,0.542),
(0.940,0.597),(0.940,0.572),(0.946,0.535),(0.951,0.524),(0.956,0.508),(0.962,0.503),(0.960,0.487),(0.967,0.481),
(0.971,0.487),(0.975,0.546),(0.981,0.540),(0.985,0.578),(0.991,0.521),(0.940,0.489),(0.950,0.484),(0.965,0.524),
(0.927,0.444),(0.920,0.465),(0.923,0.524),(0.901,0.457),(0.900,0.406),(0.906,0.390),(0.920,0.401),(0.926,0.410),
(0.942,0.371),(0.933,0.347),(0.929,0.324),(0.960,0.374),(0.963,0.342),(0.958,0.321),(0.967,0.315),(0.984,0.358),
(0.991,0.328),(0.989,0.291),(0.997,0.281),(1.022,0.278),(1.030,0.305),(1.011,0.388),(1.015,0.390),(1.041,0.414),
(1.040,0.487),(1.061,0.500),(1.069,0.422),(1.071,0.373),(0.963,0.208),(0.968,0.199),(0.910,0.199),(0.905,0.162),
(0.934,0.184),(0.897,0.315),(0.900,0.299),(0.897,0.279),(0.932,0.246),
]

# fitted curves
fit_x = [0.03, 0.1, 0.2, 0.3, 0.4, 0.5, 0.6, 0.7, 0.8, 0.9, 1.0, 1.1, 1.143]
pitch_fit_on = [0.080, 0.110, 0.153, 0.195, 0.238, 0.281, 0.327, 0.381, 0.428, 0.476, 0.529, 0.578, 0.599]
pitch_fit_off = [0.074, 0.088, 0.108, 0.140, 0.192, 0.262, 0.335, 0.432, 0.538, 0.665, 0.805, 0.947, 1.020]
roll_fit_on = [0.036, 0.045, 0.066, 0.090, 0.119, 0.160, 0.206, 0.256, 0.313, 0.374, 0.440, 0.510, 0.537]
roll_fit_off = [0.033, 0.040, 0.053, 0.070, 0.097, 0.138, 0.189, 0.245, 0.313, 0.385, 0.465, 0.551, 0.594]

x_ticks = [0.1, 0.2, 0.3, 0.4, 0.5, 0.6, 0.7, 0.8, 0.9, 1.0, 1.1]
pitch_yticks = [0, 0.5, 1, 1.5]
roll_yticks = [0, 0.2, 0.4, 0.6, 0.8, 1]
legend_labels = ["turbines on", "turbines off", "fit to turbines on", "fit to turbines off"]

# ---------------- figure ----------------
sns.set_style("white")
plt.rcParams["font.family"] = ["Liberation Sans", "DejaVu Sans"]
plt.rcParams["mathtext.fontset"] = "cm"

W, H = 1044, 855
fig = plt.figure(figsize=(W / 100, H / 100), dpi=100)
left = 109 / W
width = 1 - left - 0.5 / W
ax1 = fig.add_axes([left, 1 - 347 / H, width, (347 - 35) / H])
ax2 = fig.add_axes([left, 1 - 778 / H, width, (778 - 467) / H])

RED, GREEN, BLUE = "#ff0000", "#00ff00", "#0000ff"


def draw(ax, on, off, fon, foff):
    on = np.array(on)
    off = np.array(off)
    sns.scatterplot(x=on[:, 0], y=on[:, 1], color=RED, s=27, linewidth=0, ax=ax, legend=False, zorder=3)
    sns.scatterplot(x=off[:, 0], y=off[:, 1], color=GREEN, s=27, linewidth=0, ax=ax, legend=False, zorder=3)
    sns.lineplot(x=fit_x, y=fon, color=BLUE, lw=3.6, ax=ax, legend=False, zorder=4)
    sns.lineplot(x=fit_x, y=foff, color="black", lw=3.6, ax=ax, legend=False, zorder=5)


draw(ax1, pitch_on, pitch_off, pitch_fit_on, pitch_fit_off)
draw(ax2, roll_on, roll_off, roll_fit_on, roll_fit_off)

fmt = FuncFormatter(lambda v, p: ("%g" % v))
for ax, yt in ((ax1, pitch_yticks), (ax2, roll_yticks)):
    ax.set_xlim(0.03, 1.143)
    ax.set_ylim(yt[0], yt[-1])
    ax.set_xticks(x_ticks)
    ax.set_yticks(yt)
    ax.xaxis.set_major_formatter(fmt)
    ax.yaxis.set_major_formatter(fmt)
    ax.grid(True, color="0.35", linestyle=(0, (1, 4)), linewidth=0.9)
    ax.set_axisbelow(True)
    ax.tick_params(direction="in", length=7, width=1, top=True, right=True,
                   labelsize=18, colors="black", pad=6)
    for sp in ax.spines.values():
        sp.set_visible(True)
        sp.set_color("black")
        sp.set_linewidth(1)

ax1.tick_params(labelbottom=False)
ax2.tick_params(axis="x", pad=9)

ax1.set_ylabel(r"$\mathrm{STD(pitch)}\ \ \mathrm{[deg]}$", fontsize=36)
ax2.set_ylabel(r"$\mathrm{STD(roll)}\ \ \mathrm{[deg]}$", fontsize=35)
ax1.yaxis.set_label_coords(-0.044, 0.482)
ax2.yaxis.set_label_coords(-0.044, 0.49)
ax2.set_xlabel(r"$\mathrm{wave\ height}\ \ \mathrm{[m]}$", fontsize=35)
ax2.xaxis.set_label_coords(0.5, -0.096)

handles = [
    Line2D([], [], marker="o", ls="", color=RED, markersize=4.5, markeredgewidth=0),
    Line2D([], [], marker="o", ls="", color=GREEN, markersize=4.5, markeredgewidth=0),
    Line2D([], [], color=BLUE, lw=3.6),
    Line2D([], [], color="black", lw=3.6),
]
leg = ax1.legend(handles, legend_labels, loc="upper left",
                 bbox_to_anchor=(187 / W, 1 - 22 / H), bbox_transform=fig.transFigure,
                 fontsize=19.5, frameon=True, fancybox=False, framealpha=1,
                 edgecolor="black", handlelength=2.3, handletextpad=0.4,
                 labelspacing=0.38, borderpad=0.42, borderaxespad=0)
leg.get_frame().set_linewidth(1)
leg.set_zorder(10)

fig.savefig("out.png", dpi=100)
